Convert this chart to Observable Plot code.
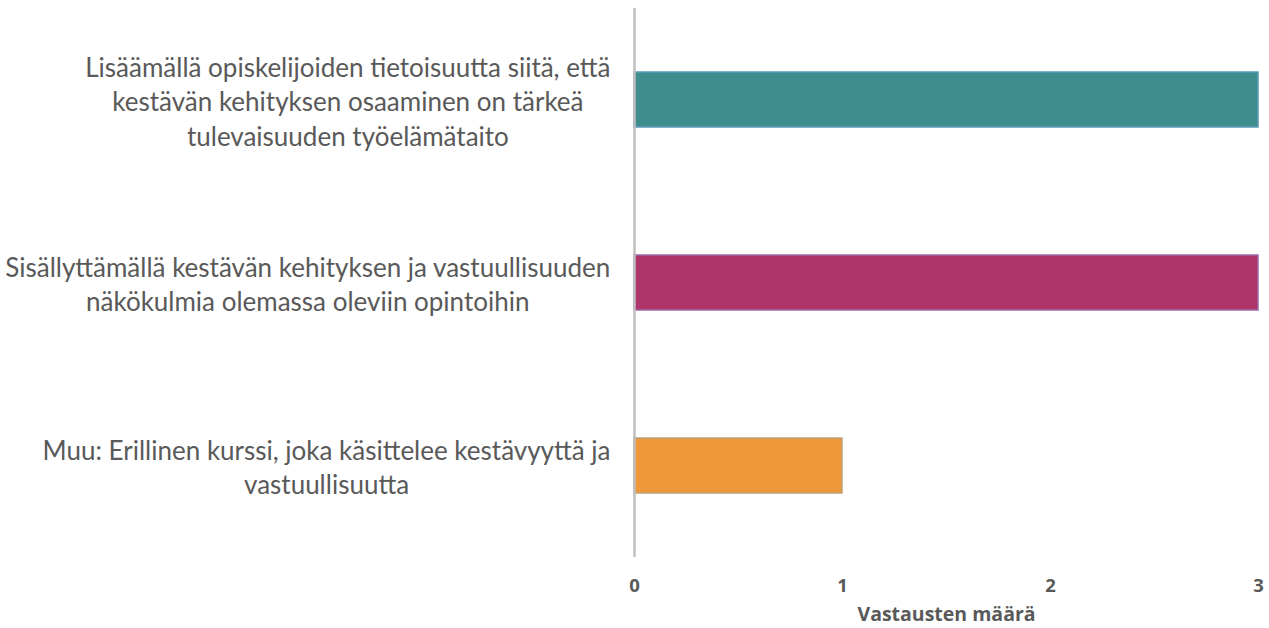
<!DOCTYPE html>
<html><head><meta charset="utf-8">
<script src="https://cdn.jsdelivr.net/npm/d3@7"></script>
<script src="https://cdn.jsdelivr.net/npm/@observablehq/plot@0.6"></script>
<style>body{margin:0;background:#fff}</style>
</head><body><div id="chart"></div>
<script>
const categories = [
  "Lisäämällä opiskelijoiden tietoisuutta siitä, että\nkestävän kehityksen osaaminen on tärkeä\ntulevaisuuden työelämätaito",
  "Sisällyttämällä kestävän kehityksen ja vastuullisuuden\nnäkökulmia olemassa oleviin opintoihin",
  "Muu: Erillinen kurssi, joka käsittelee kestävyyttä ja\nvastuullisuutta"
];
const values = [3, 3, 1];
const colors = ["#408d8e", "#ae3469", "#ee983a"];
const strokes = ["#5a9ab8", "#9a6aa8", "#b9a27a"];
const xTicks = [0, 1, 2, 3];
const axisTitle = "Vastausten määrä";

const data = categories.map((c, i) => ({category: c, value: values[i], color: colors[i], stroke: strokes[i]}));

const labelSize = 26;
const ctx = document.createElement("canvas").getContext("2d");
ctx.font = `${labelSize}px Lato`;
const gap = 24;
const offsets = categories.map(c => -(gap + d3.max(c.split("\n"), l => ctx.measureText(l).width) / 2));

const chart = Plot.plot({
  width: 1269, height: 628,
  marginLeft: 634, marginRight: 11, marginTop: 8, marginBottom: 71,
  style: {fontFamily: "Lato, sans-serif", background: "#fff"},
  x: {domain: [0, 3], axis: null},
  y: {domain: categories, paddingInner: 0.7, paddingOuter: 0.35, axis: null},
  marks: [
    Plot.barX(data, {x: "value", y: "category", fill: "color", stroke: "stroke", strokeWidth: 1.5}),
    Plot.ruleX([0], {stroke: "#bfbfbf", strokeWidth: 2.5}),
    ...data.map((d, i) => Plot.text([d], {
      y: "category", text: "category", frameAnchor: "left", textAnchor: "middle",
      dx: offsets[i], lineAnchor: "middle", lineHeight: 1.33,
      fontSize: labelSize, fontFamily: "Lato", fill: "#595959"
    })),
    Plot.text(xTicks, {x: d => d, text: d => String(d), frameAnchor: "bottom", dy: 29,
      lineAnchor: "middle", fontSize: 18.5, fontWeight: "bold", fontFamily: "Open Sans", fill: "#595959"}),
    Plot.text([axisTitle], {text: d => d, frameAnchor: "bottom", dy: 57,
      lineAnchor: "middle", fontSize: 19.5, fontWeight: "bold", fontFamily: "Open Sans", fill: "#595959"})
  ]
});
document.getElementById("chart").appendChild(chart);
</script>
</body></html>
